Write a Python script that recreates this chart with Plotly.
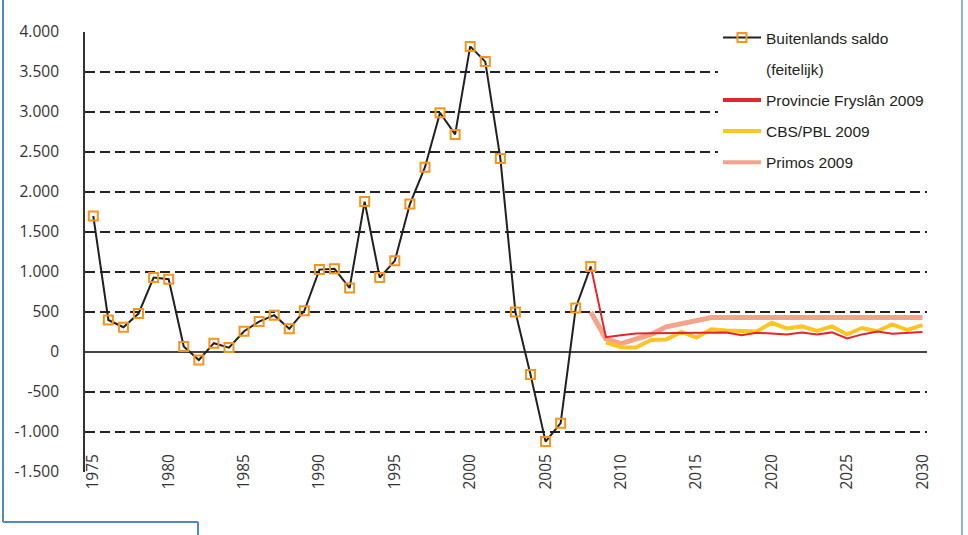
import plotly.graph_objects as go

# Buitenlands saldo (feitelijk), 1975-2008
years_hist = list(range(1975, 2009))
saldo_hist = [1700, 400, 310, 480, 930, 910, 70, -100, 110, 55,
              260, 380, 460, 290, 515, 1030, 1040, 800, 1880, 930,
              1140, 1850, 2310, 2990, 2720, 3820, 3630, 2420, 500, -280,
              -1120, -890, 550, 1070]

# Prognoses
years_fryslan = list(range(2008, 2031))
fryslan_2009 = [1070, 185, 210, 230, 235, 238, 240, 240, 243, 245, 210, 240,
                230, 220, 245, 220, 245, 170, 220, 255, 228, 238, 250]

years_cbs = list(range(2009, 2031))
cbs_pbl_2009 = [120, 60, 55, 150, 155, 250, 180, 285, 270, 265, 255, 365,
                295, 320, 265, 320, 220, 300, 260, 345, 275, 335]

years_primos = list(range(2008, 2031))
primos_2009 = [500, 165, 105, 155, 220, 315, 350, 385, 430, 430, 430, 430,
               430, 430, 430, 430, 430, 430, 430, 430, 430, 430, 430]

# Axis ticks
x_ticks = [1975, 1980, 1985, 1990, 1995, 2000, 2005, 2010, 2015, 2020, 2025, 2030]
y_ticks = [4000, 3500, 3000, 2500, 2000, 1500, 1000, 500, 0, -500, -1000, -1500]
y_labels = ["4.000", "3.500", "3.000", "2.500", "2.000", "1.500", "1.000",
            "500", "0", "-500", "-1.000", "-1.500"]

# Series names
name_hist = "Buitenlands saldo"
name_hist2 = "(feitelijk)"
name_fryslan = "Provincie Fryslân 2009"
name_cbs = "CBS/PBL 2009"
name_primos = "Primos 2009"

BLACK = "#231f20"
ORANGE = "#f7941d"
RED = "#e3262b"
YELLOW = "#fec423"
SALMON = "#f5a48c"

W, H = 968, 535
ML, MR, MT, MB = 85, 41, 32, 63
PW, PH = W - ML - MR, H - MT - MB


def px(xp):
    return (xp - ML) / PW


def py(yp):
    return (H - MB - yp) / PH


fig = go.Figure()

# legend entries
fig.add_trace(go.Scatter(x=[None], y=[None], name=name_hist, mode="lines+markers",
                         line=dict(color=BLACK, width=2),
                         marker=dict(symbol="square-open", size=9, color=ORANGE,
                                     line=dict(width=2, color=ORANGE)),
                         legendgroup="a"))
fig.add_trace(go.Scatter(x=[None], y=[None], name=name_hist2, mode="lines",
                         line=dict(color="rgba(0,0,0,0)", width=1),
                         legendgroup="b"))
fig.add_trace(go.Scatter(x=[None], y=[None], name=name_fryslan, mode="lines",
                         line=dict(color=RED, width=4), legendgroup="c"))
fig.add_trace(go.Scatter(x=[None], y=[None], name=name_cbs, mode="lines",
                         line=dict(color=YELLOW, width=4), legendgroup="d"))
fig.add_trace(go.Scatter(x=[None], y=[None], name=name_primos, mode="lines",
                         line=dict(color=SALMON, width=4), legendgroup="e"))

# data lines
fig.add_trace(go.Scatter(x=years_primos, y=primos_2009, mode="lines",
                         line=dict(color=SALMON, width=5), showlegend=False))
fig.add_trace(go.Scatter(x=years_cbs, y=cbs_pbl_2009, mode="lines",
                         line=dict(color=YELLOW, width=4), showlegend=False))
fig.add_trace(go.Scatter(x=years_fryslan, y=fryslan_2009, mode="lines",
                         line=dict(color=RED, width=2), showlegend=False))
fig.add_trace(go.Scatter(x=years_hist, y=saldo_hist, mode="lines+markers",
                         line=dict(color=BLACK, width=2),
                         marker=dict(symbol="square-open", size=9, color=ORANGE,
                                     line=dict(width=2, color=ORANGE)),
                         showlegend=False))

tick_font = dict(family="Open Sans, sans-serif", size=15.5, color="#333333")

fig.update_layout(
    width=W, height=H,
    margin=dict(l=ML, r=MR, t=MT, b=MB),
    paper_bgcolor="white", plot_bgcolor="white",
    xaxis=dict(range=[1974.45, 2030.3], tickmode="array", tickvals=x_ticks,
               tickangle=-90, showgrid=False, zeroline=False, showline=False,
               ticks="", anchor="free", position=0.05, tickfont=tick_font),
    yaxis=dict(range=[-1500, 4000], tickmode="array", tickvals=y_ticks,
               ticktext=y_labels, showgrid=True, gridcolor="#222222",
               gridwidth=1.8, griddash="10px,5px", zeroline=True,
               zerolinecolor="#444444", zerolinewidth=1.8, showline=True,
               linecolor="#333333", linewidth=1.8, ticks="",
               ticklabelstandoff=21, tickfont=tick_font),
    legend=dict(x=px(718), y=py(21), xanchor="left", yanchor="top",
                bgcolor="white", borderwidth=0, traceorder="grouped",
                tracegroupgap=8, itemwidth=38,
                font=dict(family="Liberation Sans, Arial, sans-serif",
                          size=15.5, color=BLACK)),
    showlegend=True,
)

# surrounding frame
frame_left = "#4f88cc"
frame_right = "#8db3df"
for (x0, y0, x1, y1, c) in [
    (3, 0, 3, 522, frame_left),
    (3, 522, 198, 522, frame_left),
    (198, 522, 198, 535, frame_left),
    (962, 0, 962, 535, frame_right),
]:
    fig.add_shape(type="line", xref="paper", yref="paper",
                  x0=px(x0), y0=py(y0), x1=px(x1), y1=py(y1),
                  line=dict(color=c, width=2), layer="above")

fig.write_html("out.html")
